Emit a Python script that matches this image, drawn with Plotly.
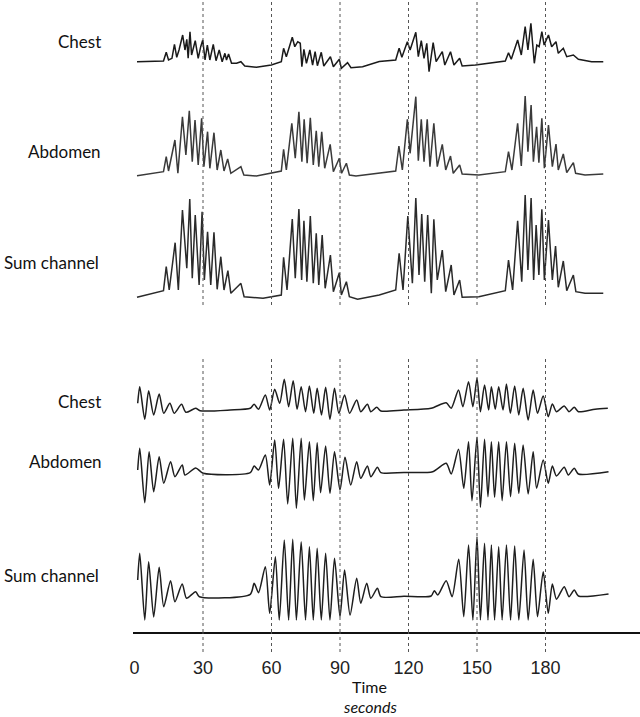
import plotly.graph_objects as go

# ---------------- DATA (time in seconds, amplitude in arbitrary units) ----------------
# Upper recording (panel A)
top_chest_t = [1.1, 12.7, 13.9, 14.9, 16.4, 17.5, 18.5, 19.5, 21.1, 22.1, 22.9, 23.5, 24.3, 25.0, 26.6, 27.9, 29.0, 29.9,
               30.9, 31.9, 33.0, 34.5, 35.7, 37.1, 38.4, 39.6, 40.3, 41.2, 42.5, 44.7, 46.6, 48.3, 53.4, 59.9, 64.3, 65.3,
               66.5, 69.1, 70.2, 71.5, 72.6, 73.3, 74.2, 75.3, 76.8, 78.0, 79.1, 80.1, 81.8, 82.9, 85.8, 87.1, 89.7, 90.6,
               93.3, 94.8, 99.9, 107.2, 114.4, 115.9, 117.1, 119.5, 120.7, 123.2, 124.3, 125.6, 126.8, 128.0, 129.0,
               130.8, 132.1, 134.8, 135.9, 138.4, 139.9, 142.4, 143.5, 149.3, 162.4, 163.8, 165.0, 167.8, 169.4, 171.1,
               172.3, 173.6, 175.1, 176.2, 177.2, 178.4, 179.4, 181.3, 182.7, 184.6, 185.6, 187.8, 189.3, 192.2, 194.4,
               200.2, 205.3]
top_chest_v = [0.3, 1, 9.7, 2, 3.7, 17.7, 4.7, 12, 27, 12, 22.7, 3.7, 30.3, 7, 21.3, 3.7, 15.3, 22,
               2, 17, 2, 17.7, 1.3, 12, 0.3, 8.7, 2, 8, -1.3, -1.3, 0.3, -4, -5.3, -3, 0.3, 13.7,
               5.3, 24.7, 15.3, 20.3, 18.7, -4.7, 12.7, -1.3, 12, -3, 10.3, -3.7, 9.7, -4, 5.3, -4.7, 2.7, -6.3,
               -0.7, -5.7, -4.7, 0.5, 2, 13.7, 4.7, 20.3, 12, 29.7, 5.3, 21.3, 3.7, 18.7, -9.7,
               19.3, 0.3, 10.3, -3, 10.3, -3, 3.7, -4, -3, 1, 9.3, 2.7, 22, 7, 35.3,
               12, 38.7, -1.3, 17, 15.3, 30.3, 17, 27, 15.3, 20.3, 8.7, 13.7, 5.3, 7, 2.7,
               0.3, 0.3]

top_abd_t = [1.1, 12.7, 13.9, 14.9, 17.7, 19.0, 21.0, 22.5, 24.0, 25.3, 26.5, 27.9, 29.4, 30.4, 32.0, 33.0, 34.8, 36.2,
             37.8, 39.2, 40.8, 42.2, 46.6, 47.9, 53.4, 59.2, 64.3, 65.3, 66.5, 68.9, 70.4, 72.0, 73.3, 74.3, 75.6,
             77.0, 78.3, 79.6, 80.7, 82.0, 83.3, 85.7, 87.1, 89.7, 90.7, 92.8, 94.1, 97.0, 107.2, 114.4, 115.8, 117.3,
             119.5, 120.7, 123.2, 124.3, 125.6, 126.8, 128.2, 129.4, 131.1, 132.6, 134.8, 136.3, 138.4, 139.6, 142.4,
             143.5, 150.8, 162.4, 163.8, 165.3, 167.8, 169.4, 171.1, 172.3, 173.7, 174.7, 176.1, 177.1, 178.4, 179.5,
             181.3, 183.0, 184.6, 185.6, 187.8, 189.3, 192.2, 193.2, 197.3, 205.3]
top_abd_v = [-0.7, 3.3, 18.3, 4, 35, 1.7, 58.3, 20, 64.3, 13.3, 55, 10, 56.7, 8.3, 43.3, 6.7, 42.3, 5,
             25, 4, 16, 1.7, 8.3, 0, -1, 1.7, 4, 25.7, 5, 51.7, 16.7, 63.3, 13.3, 55.7, 11.7,
             57.3, 10, 44.3, 8.3, 43.3, 6.7, 30.7, 3.3, 16.7, 1.7, 11.7, 0, -1, 1.7, 4, 29, 5,
             55.7, 21.7, 78.3, 14.3, 55.7, 13.3, 55.7, 8.3, 51.7, 8.3, 30.7, 5, 19, 1.7, 10,
             1, 0, 3.3, 23.3, 5, 51.7, 9, 79, 23.3, 70, 13.3, 48.3, 12.3, 56.7, 6.7,
             50, 8.3, 31, 5, 21, 2.3, 12.3, 1.7, 0, 1]

top_sum_t = [1.1, 12.7, 13.9, 15.2, 17.8, 19.2, 21.0, 22.9, 24.2, 25.3, 26.6, 28.3, 29.6, 30.6, 32.0, 33.4, 34.8, 36.2,
             37.8, 39.2, 40.9, 42.2, 46.6, 48.0, 56.3, 64.3, 65.3, 66.8, 69.1, 70.4, 72.0, 73.2, 74.2, 75.5, 77.0,
             78.3, 79.6, 80.7, 82.2, 83.5, 85.8, 87.1, 89.7, 90.6, 92.8, 94.1, 97.7, 107.2, 114.4, 115.9, 117.6,
             119.7, 121.7, 123.2, 124.6, 125.8, 127.1, 128.4, 130.0, 131.1, 132.6, 134.8, 136.3, 138.7, 139.9, 142.4,
             143.5, 150.8, 162.4, 163.8, 165.6, 167.8, 169.6, 171.1, 172.3, 173.7, 174.8, 175.9, 177.1, 178.4, 179.5,
             181.3, 183.0, 184.4, 185.6, 187.8, 189.3, 192.2, 193.3, 197.3, 205.3]
top_sum_v = [-0.3, 6.3, 30.3, 7, 54.3, 7, 87, 28.7, 98, 18.7, 82, 12, 85.3, 17, 65.3, 12, 64.7, 7.7,
             40.3, 7, 26.3, 3.7, 13.7, 0.3, -1.3, 2, 39.7, 7, 78, 18.7, 88, 17, 76.3, 15.3, 81,
             13.7, 63.7, 12, 62, 8.7, 42, 5.3, 24.3, 2, 15.3, 0.3, -2.3, 2, 7, 43.7, 7,
             81, 13.7, 99, 22, 83, 15.3, 82, 3.7, 77.7, 17, 47, 5.3, 32, 2, 17,
             -0.3, 0.3, 6.3, 37, 7, 76.3, 15.3, 102, 27, 99, 17, 72, 22, 87.7, 17,
             77, 17, 51, 9.7, 36, 6.3, 22, 5.3, 3.7, 3.7]

# Lower recording (panel B)
bot_chest_t = [1.4, 2.3, 4.5, 6.2, 8.4, 10.8, 12.8, 15.5, 17.4, 20.6, 22.5, 26.8, 28.7, 41.9, 50.7, 52.4, 54.3, 57.3,
               59.2, 61.4, 63.6, 65.6, 67.5, 69.5, 71.2, 73.0, 74.9, 76.6, 78.5, 80.0, 81.9, 83.7, 85.6, 87.6, 89.5,
               92.0, 94.2, 97.3, 99.1, 102.0, 103.5, 106.1, 107.9, 118.0, 129.9, 136.5, 138.7, 141.9, 143.8, 146.3, 148.2,
               150.0, 151.5, 153.3, 155.1, 156.3, 158.0, 159.5, 161.4, 162.9, 164.6, 166.5, 168.3, 170.2, 172.4, 174.6,
               176.5, 179.0, 181.2, 183.0, 184.8, 188.2, 190.3, 192.6, 194.4, 201.7, 207.3]
bot_chest_v = [6.7, 23.3, -9.3, 19.3, -5, 16, -3.3, 6.7, -3.3, 5.7, -2.3, 1.7, -0.7, 0, 1.7, 5.7, 0.7, 15,
               0, 20.7, 6.7, 30.7, 3.3, 29.3, 0.7, 23.3, -1.7, 24, -3.3, 21.7, -5, 22.7, -9.3, 21.7, -3.3,
               15, -3.3, 10, -1.7, 5.7, -1.7, 2.7, -1, 0, 1.7, 7.3, 1.7, 20, 3.3, 28.3, 3.3,
               31.7, -1.7, 25, 0, 23.3, 0.7, 23.3, 0, 26, -3.3, 24, -5, 21.7, -10, 20,
               -3.3, 14, -6.7, 6, -1.7, 4, -1.7, 2.7, -1.7, 0.7, 1.7]

bot_abd_t = [1.4, 2.3, 4.5, 6.4, 8.4, 10.8, 12.8, 15.8, 17.7, 20.9, 22.1, 26.8, 30.1, 50.7, 52.4, 54.3, 57.3, 59.2,
             61.4, 63.1, 65.3, 67.1, 69.3, 70.9, 73.0, 74.4, 76.6, 78.3, 80.0, 81.5, 83.7, 85.6, 87.6, 90.0, 92.2,
             94.7, 97.3, 99.1, 102.0, 103.5, 106.4, 107.9, 118.0, 130.6, 136.5, 138.7, 141.9, 144.2, 146.3, 147.8, 150.0,
             151.5, 153.3, 154.8, 156.3, 157.7, 159.5, 161.0, 162.9, 164.7, 166.5, 168.3, 170.2, 172.4, 174.6, 176.1,
             179.0, 181.2, 183.0, 184.8, 188.2, 190.0, 192.6, 194.4, 207.6]
bot_abd_v = [3, 24.7, -29.7, 21.3, -18.7, 16.3, -10.3, 11.3, -3.7, 8, -2, 5, -0.3, 0.3, 7, 3, 18, -12,
             33, -15.3, 33.7, -31, 34.7, -35.3, 34.7, -27, 31.3, -27.7, 30.3, -19.7, 27, -20.3, 21.3, -17, 15.7,
             -12, 11.3, -5.3, 7, -3.7, 5.7, 0.3, 0.5, 1.3, 9.7, -1, 23.7, -15.3, 31.3, -27.7, 35.7,
             -34.3, 33.7, -23.7, 31.3, -24.3, 31.3, -27.7, 31.3, -23.7, 29.7, -20.3, 28, -21, 21.3, -15.3,
             13, -10.3, 7, -3, 5.7, -2, 4.7, -1, 1.3]

bot_sum_t = [1.4, 2.3, 4.5, 6.2, 8.4, 10.8, 12.8, 15.8, 17.7, 20.9, 22.8, 26.8, 28.4, 50.7, 52.4, 54.3, 57.3, 59.2,
             61.7, 63.4, 65.6, 67.5, 69.3, 70.9, 73.0, 74.9, 76.6, 78.3, 80.0, 81.8, 83.7, 85.6, 87.6, 90.0, 92.0,
             94.4, 97.3, 99.1, 101.7, 103.5, 106.4, 107.9, 118.0, 129.9, 131.3, 132.8, 136.5, 139.1, 142.0, 144.2, 146.3,
             148.2, 150.0, 151.5, 153.3, 154.8, 156.3, 157.7, 159.5, 161.0, 162.9, 164.7, 166.5, 168.3, 170.6, 172.4,
             174.6, 176.5, 179.0, 181.2, 183.0, 184.8, 188.2, 190.3, 192.6, 194.4, 207.6]
bot_sum_v = [16, 42.7, -24, 34.3, -21, 28.7, -10.7, 15.3, -5.7, 12, -2.3, 4.3, -0.7, 1.7, 12.7, 3.3, 29.3, -17.3,
             39.3, -24, 56, -24, 56.7, -24, 54.3, -24, 49.3, -24, 47.7, -24, 42.7, -24, 37.7, -20.7, 26,
             -19, 17.7, -7.3, 12.7, -2.3, 7.7, -0.7, -0.3, 0, 5.3, 1, 15.3, -0.7, 36.7, -20.7, 51,
             -24, 59.3, -24, 52.7, -24, 51, -24, 49.3, -24, 51, -24, 50, -24, 46, -24,
             36.7, -20.7, 24.3, -17.3, 12, -3.3, 9.3, -0.7, 6, 0, 2]

channel_labels = ["Chest", "Abdomen", "Sum channel"]
tick_values = [0, 30, 60, 90, 120, 150, 180]
tick_labels = ["0", "30", "60", "90", "120", "150", "180"]
marker_times = [30, 60, 90, 120, 150, 180]

# ---------------- LAYOUT GEOMETRY ----------------
W, H = 640, 717
ML, MR, MT, MB = 133, 0, 0, 85
PH = H - MT - MB          # plot height in px (1 amplitude unit = 1 px)
PW = W - ML - MR
X0_PX, PX_PER_30S = 134.5, 68.5


def paper_x(px):
    return (px - ML) / PW


def paper_y(py):
    return (PH - (py - MT)) / PH


traces = [
    # (t, v, axis index, baseline px, colour, shape)
    (top_chest_t, top_chest_v, 1, 62, "#1a1a1a", "linear"),
    (top_abd_t, top_abd_v, 2, 175, "#3a3a3a", "linear"),
    (top_sum_t, top_sum_v, 3, 297, "#2a2a2a", "linear"),
    (bot_chest_t, bot_chest_v, 4, 410, "#1e1e1e", "spline"),
    (bot_abd_t, bot_abd_v, 5, 473, "#1e1e1e", "spline"),
    (bot_sum_t, bot_sum_v, 6, 596, "#1e1e1e", "spline"),
]

fig = go.Figure()
layout_axes = {}
for t, v, idx, base, col, shp in traces:
    yname = "y" if idx == 1 else f"y{idx}"
    line = dict(color=col, width=1.5, shape=shp)
    if shp == "spline":
        line["smoothing"] = 0.7
    fig.add_trace(go.Scatter(x=t, y=v, xaxis="x", yaxis=yname, mode="lines",
                             line=line, showlegend=False, hoverinfo="skip"))
    key = "yaxis" if idx == 1 else f"yaxis{idx}"
    ax = dict(range=[-(PH - (base - MT)), base - MT], showgrid=False, zeroline=False,
              showline=False, showticklabels=False, ticks="", fixedrange=True)
    if idx != 1:
        ax["overlaying"] = "y"
    layout_axes[key] = ax

x_range = [(ML - X0_PX) * 30 / PX_PER_30S, (W - MR - X0_PX) * 30 / PX_PER_30S]

dot_line = dict(color="#555", width=1, dash="dot")
shapes = []
for m in marker_times:
    shapes.append(dict(type="line", xref="x", yref="paper", x0=m, x1=m,
                       y0=paper_y(305), y1=paper_y(0), line=dot_line))
    shapes.append(dict(type="line", xref="x", yref="paper", x0=m, x1=m,
                       y0=paper_y(PH + MT), y1=paper_y(356), line=dot_line))
    # continuation of the marker below the time axis (outside the plotting area)
    mx = paper_x(X0_PX + m * PX_PER_30S / 30)
    shapes.append(dict(type="line", xref="paper", yref="paper", x0=mx, x1=mx,
                       y0=paper_y(652), y1=paper_y(PH + MT), line=dot_line))

label_font = dict(family="Lato, 'Open Sans', sans-serif", size=17, color="#111")
title_font = dict(family="Lato, 'Open Sans', sans-serif", size=16, color="#111")
annotations = []
label_pos_top = [(103, 41), (103, 151), (101, 262)]
label_pos_bot = [(103, 401), (104, 461), (101, 575)]
for txt, (x, y) in zip(channel_labels, label_pos_top):
    annotations.append(dict(text=txt, xref="paper", yref="paper", x=paper_x(x), y=paper_y(y),
                            xanchor="right", yanchor="middle", showarrow=False, font=label_font))
for txt, (x, y) in zip(channel_labels, label_pos_bot):
    annotations.append(dict(text=txt, xref="paper", yref="paper", x=paper_x(x), y=paper_y(y),
                            xanchor="right", yanchor="middle", showarrow=False, font=label_font))
annotations.append(dict(text="Time", xref="paper", yref="paper", x=paper_x(369), y=paper_y(686),
                        xanchor="center", yanchor="middle", showarrow=False, font=title_font,
                        borderpad=0))
annotations.append(dict(text="<i>seconds</i>", xref="paper", yref="paper", x=paper_x(370), y=paper_y(717),
                        xanchor="center", yanchor="bottom", showarrow=False, font=title_font,
                        borderpad=0))

fig.update_layout(
    width=W, height=H, autosize=False,
    margin=dict(l=ML, r=MR, t=MT, b=MB, pad=0),
    paper_bgcolor="white", plot_bgcolor="white",
    xaxis=dict(range=x_range, showline=True, linecolor="#111", linewidth=2,
               tickmode="array", tickvals=tick_values, ticktext=tick_labels,
               ticks="outside", ticklen=18, tickcolor="rgba(0,0,0,0)",
               tickfont=dict(family="Liberation Sans, Arial, sans-serif", size=18, color="#222"),
               showgrid=False, zeroline=False, fixedrange=True),
    shapes=shapes, annotations=annotations,
    **layout_axes,
)

fig.write_html("out.html", config={"displayModeBar": False},
               post_script="document.body.style.margin='0px';document.body.style.padding='0px';")
